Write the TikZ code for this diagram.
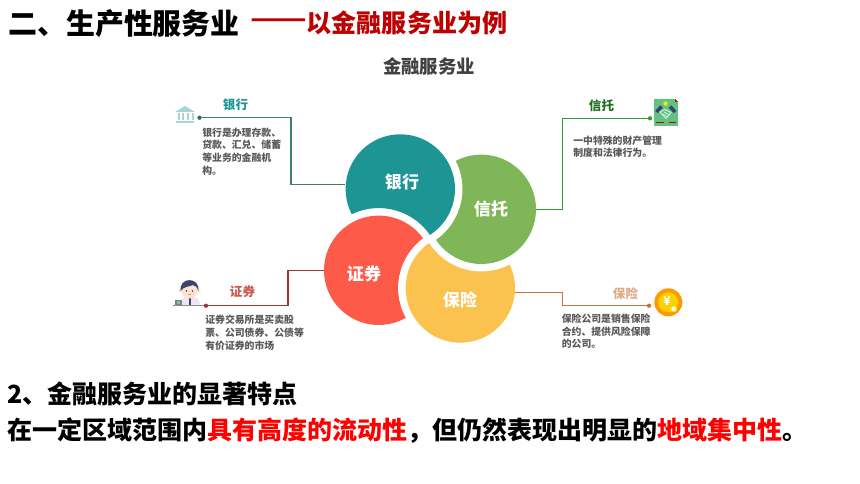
\documentclass[tikz,border=0pt]{standalone}
\usepackage{fontspec}
\usepackage{graphicx}
\setmainfont{Noto Sans CJK SC}
\definecolor{cbank}{HTML}{1D9594}
\definecolor{ctrust}{HTML}{7FB758}
\definecolor{csec}{HTML}{FE5A49}
\definecolor{cins}{HTML}{FBC250}
\definecolor{lbank}{HTML}{3F7F62}
\definecolor{ltrust}{HTML}{2E9E2E}
\definecolor{lsec}{HTML}{A5303A}
\definecolor{lins}{HTML}{C4743C}
\definecolor{dtext}{HTML}{595959}
\definecolor{navy}{HTML}{3A4468}
\definecolor{skin}{HTML}{FBE3D0}
\definecolor{leaf}{HTML}{63C184}
\tikzset{
  mainhead/.style={font=\bfseries\fontsize{21.7}{24}\selectfont,anchor=west,inner sep=0pt},
  redhead/.style={font=\bfseries\fontsize{18.8}{22}\selectfont,text=red!75!black,anchor=west,inner sep=0pt},
  bodyline/.style={font=\bfseries\fontsize{18.75}{22}\selectfont,anchor=west,inner sep=0pt},
  charttitle/.style={font=\bfseries\fontsize{13.8}{16}\selectfont,text=black!75,inner sep=0pt},
  petal/.style={circle,minimum size=82pt,inner sep=0pt},
  petaltext/.style={inner sep=0pt,text=white,font=\bfseries\fontsize{12.8}{15}\selectfont},
  desc/.style={font=\bfseries\fontsize{7.4}{9.5}\selectfont,text=dtext,align=left,anchor=north west,inner sep=0pt},
  tag/.style={font=\bfseries\fontsize{9.4}{11}\selectfont,inner sep=0pt},
  leader/.style={line width=1.1pt},
  tipdot/.style={circle,minimum size=3.2pt,inner sep=0pt},
}
\begin{document}
\begin{tikzpicture}[x=0.75pt,y=-0.75pt]
\useasboundingbox (0,0) rectangle (860,484);
\fill[white] (0,0) rectangle (860,484);
% headings
\node[mainhead] (h1) at (8,24) {二、生产性服务业};
\node[redhead] (h2a) at (250.5,23) {\scalebox{1.32}[1]{——}};
\node[redhead] (h2) at (306.5,23) {以金融服务业为例};
\node[charttitle] (ct) at (429,66) {金融服务业};
\node[bodyline] (l1) at (7,394) {2、金融服务业的显著特点};
\node[bodyline] (l2) at (7,431) {在一定区域范围内\textcolor{red}{具有高度的流动性}，但仍然表现出明显的\textcolor{red}{地域集中性}。};
% petals
\coordinate (bc) at (400.3,189);
\coordinate (tc) at (481.3,209.3);
\coordinate (sc) at (378.7,270.3);
\coordinate (ic) at (460.3,288);
\begin{scope}[even odd rule]\clip (0,0) rectangle (860,484) (sc) circle (62.2);
\fill[cbank,nonzero rule] (bc) circle (54.7);\end{scope}
\begin{scope}[even odd rule]\clip (0,0) rectangle (860,484) (bc) circle (62.2);
\fill[ctrust,nonzero rule] (tc) circle (54.7);\end{scope}
\begin{scope}[even odd rule]\clip (0,0) rectangle (860,484) (ic) circle (62.2);
\fill[csec,nonzero rule] (sc) circle (54.7);\end{scope}
\begin{scope}[even odd rule]\clip (0,0) rectangle (860,484) (tc) circle (62.2);
\fill[cins,nonzero rule] (ic) circle (54.7);\end{scope}
\node[petal] (bank) at (bc) {};
\node[petal] (trust) at (tc) {};
\node[petal] (sec) at (sc) {};
\node[petal] (ins) at (ic) {};
\node[petaltext] (bankt) at (402,182) {银行};
\node[petaltext] (trustt) at (491,209) {信托};
\node[petaltext] (sect) at (364,274) {证券};
\node[petaltext] (inst) at (460,300) {保险};
% tags and descriptions
\node[tag,text=cbank] (tb) at (235.5,105) {银行};
\node[tag,text=ltrust!70!black] (tt) at (601.5,106) {信托};
\node[tag,text=csec!70!dtext] (ts) at (242.5,292) {证券};
\node[tag,text=lins!60!white] (ti) at (625.5,294) {保险};
\node[desc] (db) at (202,127.5) {银行是办理存款、\\贷款、汇兑、储蓄\\等业务的金融机\\构。};
\node[desc] (dt) at (573,135.5) {一中特殊的财产管理\\制度和法律行为。};
\node[desc] (ds) at (205,315) {证券交易所是买卖股\\票、公司债券、公债等\\有价证券的市场};
\node[desc] (di) at (561.5,313.5) {保险公司是销售保险\\合约、提供风险保障\\的公司。};
% connectors
\node[tipdot,fill=lbank!80!black] (pb) at (199.5,117.7) {};
\node[tipdot,fill=ltrust] (pt) at (650,118.3) {};
\node[tipdot,fill=lsec] (ps) at (206,305.7) {};
\node[tipdot,fill=lins] (pi) at (649,305.7) {};
\coordinate (bk) at (291,184.3);
\coordinate (tk) at (562.7,209.3);
\coordinate (sk) at (288,270.3);
\coordinate (ik) at (562.7,292.7);
\draw[leader,lbank] (pb) -| (bk) -- (bk -| bank.west);
\draw[leader,ltrust] (pt) -| (tk) -- (trust.east);
\draw[leader,lsec] (ps) -| (sk) -- (sec.west);
\draw[leader,lins] (pi) -| (ik) -- (ik -| ins.east);
% bank icon
\begin{scope}[fill=cbank!40!white]
\fill (175,112) -- (185,106) -- (195,112) -- cycle;
\fill (176,121) rectangle (194,123.5);
\foreach \cx in {177.5,182,187,191.5}{\fill (\cx,113.5) rectangle (\cx+2.2,120);}
\end{scope}
% person icon
\fill[black!45] (173,305.3) rectangle (204,306.1);
\fill[violet!10] (180,305) .. controls (180,298) and (184,297) .. (190,297) .. controls (196,297) and (200,298) .. (200,305) -- cycle;
\draw[navy,line width=.8pt] (190,297.5) -- (190,305);
\fill[black!50] (175,300) rectangle (181.5,305);
\fill[cbank!60!white] (176.5,301.5) rectangle (180,304);
\fill[skin] (180,290.5) circle (1.8) (199,290.5) circle (1.8);
\fill[skin] (189.5,290) circle (8.5);
\fill[navy] (180.7,291) .. controls (178.5,276.5) and (200.5,276.5) .. (198.3,291) .. controls (197,287) and (196,285.5) .. (193,285) .. controls (189,287) and (184,286) .. (180.7,291) -- cycle;
\fill[navy] (186.5,291) circle (.8) (192.5,291) circle (.8);
\draw[red!50!white,line width=.4pt] (188,294.5) -- (191,294.5);
% handshake icon
\fill[leaf] (654,99) -- (675,99) -- (678,102) -- (678,126) -- (654,126) -- cycle;
\fill[red!80!black] (675,99) -- (678,102) -- (675,102) -- cycle;
\fill[yellow!85!orange] (665.5,103.5) circle (2.2);
\draw[navy,line width=2.6pt] (656.5,112) -- (661.5,106.5) (675,112) -- (670,106.5);
\draw[white!70!leaf,line width=.7pt,line cap=round] (660,112) -- (665,109.5) -- (671,112.5) -- (666,118.5) -- cycle;
\draw[white!70!leaf,line width=.7pt] (662.5,114) -- (668,117) (664,112) -- (669.5,115);
\draw[red!75!black,line width=.6pt] (656,122.5) -- (663.5,122.5) (668.5,122.5) -- (676,122.5);
% coin icon
\fill[orange!80!yellow] (668.3,302.3) circle (14);
\fill[yellow!70!orange] (668.3,302.3) circle (10);
\node[font=\bfseries\fontsize{9}{10}\selectfont,text=white,inner sep=0pt] (yen) at (667,301) {¥};
\fill[white!75!yellow] (674,309) circle (2.8);
\end{tikzpicture}
\end{document}
